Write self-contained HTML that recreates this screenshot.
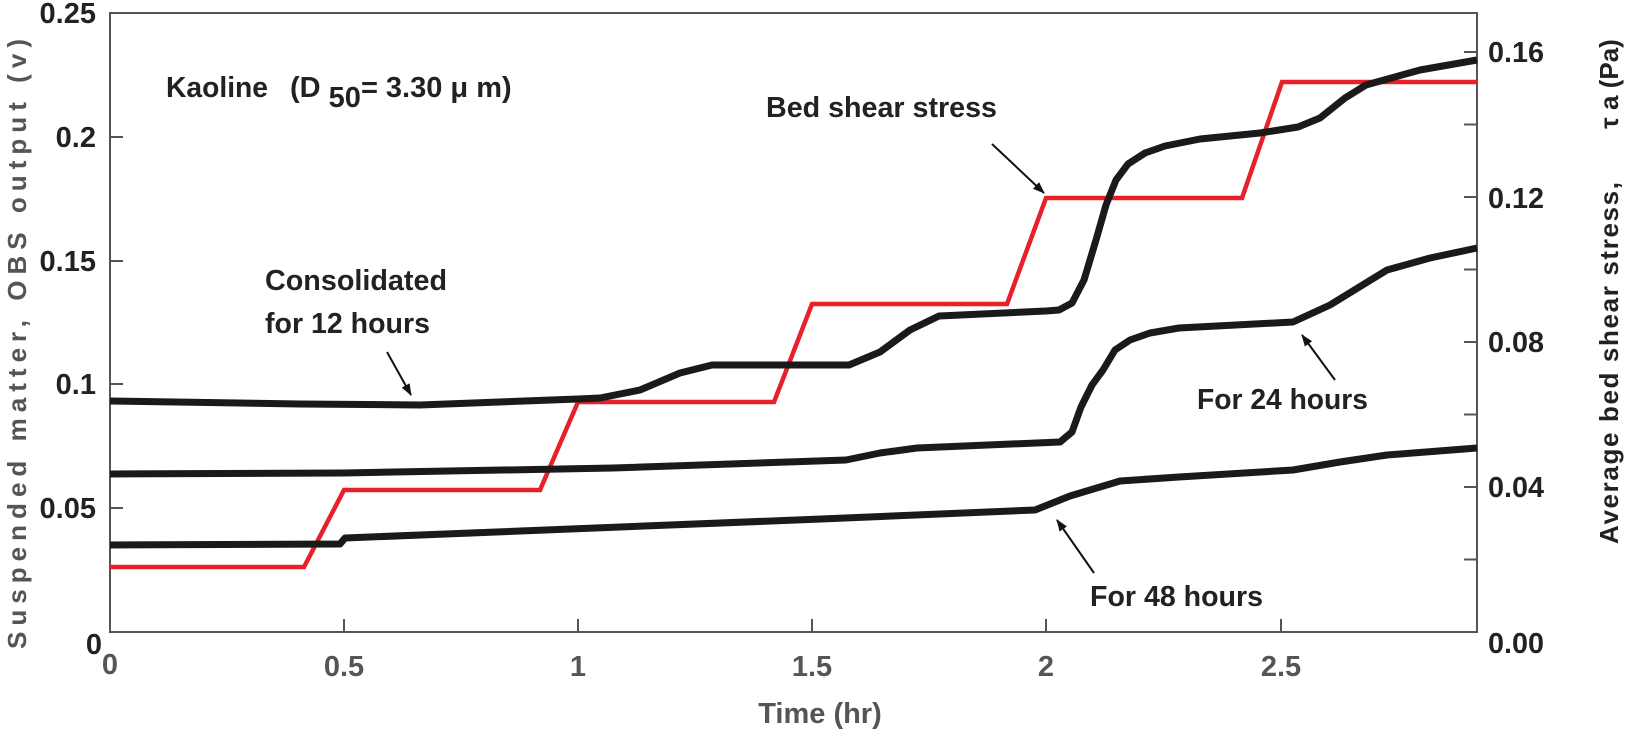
<!DOCTYPE html>
<html><head><meta charset="utf-8"><style>
html,body{margin:0;padding:0;background:#fff;}
svg{display:block;font-family:"Liberation Sans",Arial,sans-serif;font-weight:bold;}
</style></head><body>
<svg width="1630" height="734" viewBox="0 0 1630 734" xmlns="http://www.w3.org/2000/svg">
<defs>
<marker id="ah" markerWidth="12" markerHeight="12" refX="11" refY="6" orient="auto" markerUnits="userSpaceOnUse">
<path d="M0,1.5 L12,6 L0,10.5 z" fill="#111"/></marker>
</defs>
<g stroke="#555" stroke-width="2" fill="none">
<rect x="110" y="13" width="1367" height="619"/>
<path d="M110,137h13M110,261h13M110,384h13M110,508h13"/>
<path d="M344,632v-13M578,632v-13M812,632v-13M1046,632v-13M1281,632v-13"/>
<path d="M1477,559.5h-13M1477,487h-13M1477,414.5h-13M1477,342h-13M1477,269.5h-13M1477,197h-13M1477,124.5h-13M1477,52h-13"/>
</g>
<polyline fill="none" stroke="#e8202a" stroke-width="4.5" points="110,567 304,567 344,490 540,490 578,402 774,402 812,304 1007,304 1046,198 1242,198 1282,82 1477,82"/>
<g fill="none" stroke="#1a1a1a" stroke-width="7" stroke-linejoin="round">
<polyline points="110,401 300,404 420,405 578,399 600,398 640,390 680,373 712,365 849,365 880,352 910,330 939,316 1046,311 1059,310 1072,303 1084,280 1096,240 1106,205 1116,180 1128,164 1145,153 1165,146 1200,139 1260,133 1298,127 1320,118 1345,98 1366,85 1420,70 1477,60"/>
<polyline points="110,474 343,473 613,468 846,460 880,453 917,448 1060,442 1072,432 1081,407 1092,385 1103,370 1115,350 1130,340 1150,333 1179,328 1293,322 1330,305 1387,270 1430,258 1477,248"/>
<polyline points="110,545 340,544 345,538 821,519 1035,510 1070,496 1120,481 1179,477 1293,470 1340,462 1387,455 1477,448"/>
</g>
<g stroke="#111" stroke-width="2" marker-end="url(#ah)">
<line x1="992" y1="144" x2="1044" y2="193"/>
<line x1="387" y1="352" x2="411" y2="395"/>
<line x1="1335" y1="380" x2="1302" y2="335"/>
<line x1="1094" y1="573" x2="1057" y2="520"/>
</g>
<g font-size="29" fill="#222" text-anchor="end">
<text x="96" y="23">0.25</text>
<text x="96" y="147">0.2</text>
<text x="96" y="271">0.15</text>
<text x="96" y="394">0.1</text>
<text x="96" y="518">0.05</text>
<text x="102" y="654">0</text>
</g>
<g font-size="29" fill="#555" text-anchor="middle">
<text x="110" y="674">0</text>
<text x="344" y="676">0.5</text>
<text x="578" y="676">1</text>
<text x="812" y="676">1.5</text>
<text x="1046" y="676">2</text>
<text x="1281" y="676">2.5</text>
<text x="820" y="723">Time  (hr)</text>
</g>
<g font-size="29" fill="#222">
<text x="1488" y="62" textLength="56" lengthAdjust="spacingAndGlyphs">0.16</text>
<text x="1488" y="208" textLength="56" lengthAdjust="spacingAndGlyphs">0.12</text>
<text x="1488" y="352" textLength="56" lengthAdjust="spacingAndGlyphs">0.08</text>
<text x="1488" y="497" textLength="56" lengthAdjust="spacingAndGlyphs">0.04</text>
<text x="1488" y="653" textLength="56" lengthAdjust="spacingAndGlyphs">0.00</text>
</g>
<text transform="translate(26,344) rotate(-90)" text-anchor="middle" font-size="26" fill="#555" textLength="610" lengthAdjust="spacing">Suspended matter, OBS output (v)</text>
<text transform="translate(1618,363) rotate(-90)" text-anchor="middle" font-size="26" fill="#222" textLength="362" lengthAdjust="spacing">Average bed shear stress,</text>
<text transform="translate(1618,84) rotate(-90)" text-anchor="middle" font-size="26" fill="#222">τ a (Pa)</text>
<g font-size="29" fill="#222">
<text x="166" y="97" textLength="102" lengthAdjust="spacingAndGlyphs">Kaoline</text>
<text x="290" y="97">(D <tspan dy="10">50</tspan><tspan dy="-10">= 3.30 μ m)</tspan></text>
<text x="766" y="117" textLength="231" lengthAdjust="spacingAndGlyphs">Bed shear stress</text>
<text x="265" y="290" textLength="182" lengthAdjust="spacingAndGlyphs">Consolidated</text>
<text x="265" y="333" textLength="165" lengthAdjust="spacingAndGlyphs">for 12 hours</text>
<text x="1197" y="409" textLength="171" lengthAdjust="spacingAndGlyphs">For 24 hours</text>
<text x="1090" y="606" textLength="173" lengthAdjust="spacingAndGlyphs">For 48 hours</text>
</g>
</svg>
</body></html>
